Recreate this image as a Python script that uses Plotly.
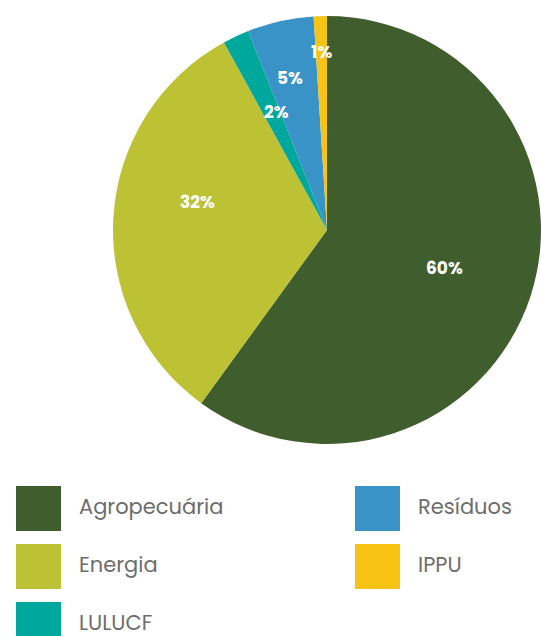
import math
import plotly.graph_objects as go

labels = ["Agropecuária", "Energia", "LULUCF", "Resíduos", "IPPU"]
values = [60, 32, 2, 5, 1]
colors = ["#405d2e", "#bcc234", "#00a79d", "#3a93c7", "#f7c415"]

W, H = 541, 636
CX, CY, R = 327, 230, 214
# label placement (style): radial fraction and angular nudge per slice
label_rfrac = [0.575, 0.62, 0.60, 0.73, 0.83]
label_dang = [0, 8.5, 2, -1, 0]

FONT = "Poppins, Lato, Roboto, sans-serif"
fig = go.Figure()
fig.add_trace(go.Pie(
    labels=labels, values=values, sort=False, direction="clockwise", rotation=0,
    marker=dict(colors=colors, line=dict(width=0)),
    textinfo="none",
    domain=dict(x=[(CX - R) / W, min(1, (CX + R) / W)], y=[(H - CY - R) / H, (H - CY + R) / H]),
    showlegend=False, hoverinfo="label+percent",
))

annos = []
total = sum(values)
cum = 0
for v, rf, da in zip(values, label_rfrac, label_dang):
    mid = (cum + v / 2) / total * 360 + da
    cum += v
    a = math.radians(mid)
    px = CX + rf * R * math.sin(a)
    py = CY - rf * R * math.cos(a)
    annos.append(dict(text=f"{v}%", xref="paper", yref="paper", x=px / W, y=1 - py / H,
                      xanchor="center", yanchor="middle", showarrow=False,
                      font=dict(family=FONT, size=17, color="white", weight="bold")))

# custom legend: two columns
sq = 45
col_x = [16, 355]
row_y = [486, 544, 602]
shapes = []
for i, (lab, c) in enumerate(zip(labels, colors)):
    col = 0 if i < 3 else 1
    row = i if i < 3 else i - 3
    x0, y0 = col_x[col], row_y[row]
    shapes.append(dict(type="rect", xref="paper", yref="paper",
                       x0=x0 / W, x1=(x0 + sq) / W, y0=1 - (y0 + sq) / H, y1=1 - y0 / H,
                       fillcolor=c, line=dict(width=0)))
    annos.append(dict(text=lab, xref="paper", yref="paper", x=(x0 + sq + 16) / W,
                      y=1 - (y0 + sq / 2 - 2.5) / H, xanchor="left", yanchor="middle", showarrow=False,
                      font=dict(family=FONT, size=21, color="#6d6d6d")))

fig.update_layout(
    width=W, height=H, margin=dict(l=0, r=0, t=0, b=0),
    paper_bgcolor="white", plot_bgcolor="white",
    shapes=shapes, annotations=annos,
)
fig.write_html("out.html", config={"displayModeBar": False},
               post_script="document.body.style.margin='0';")
